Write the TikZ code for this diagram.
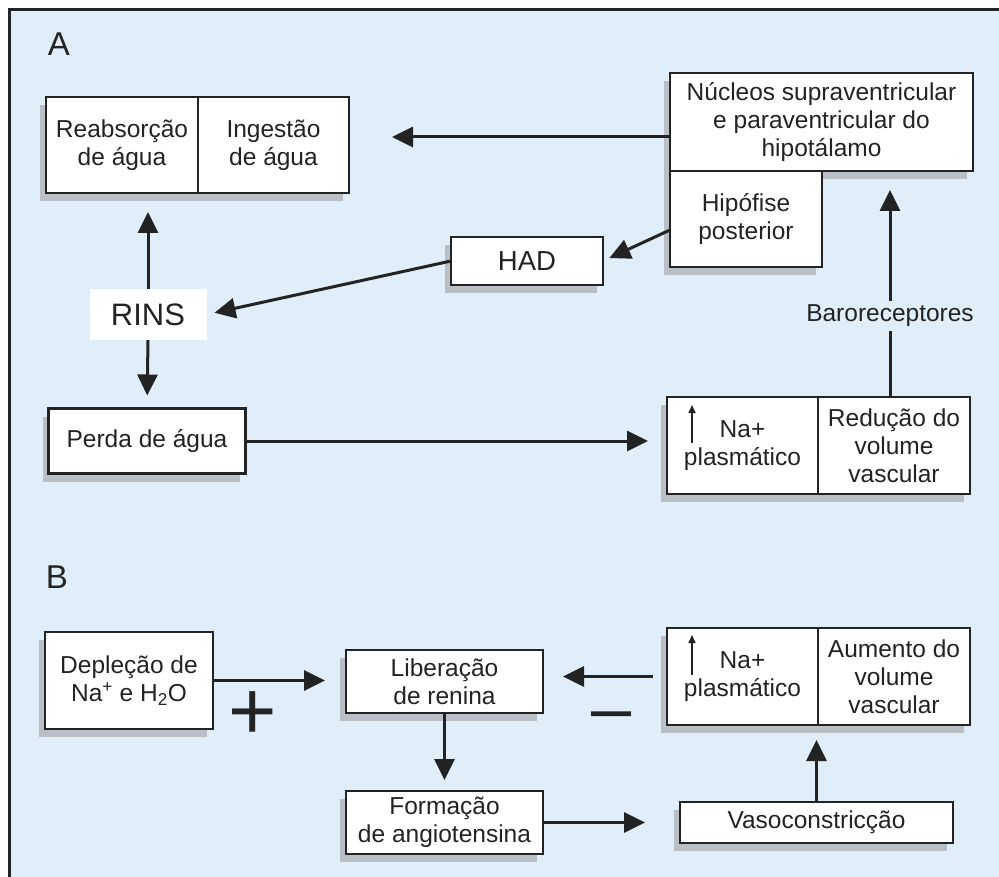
\documentclass[tikz,border=0pt]{standalone}
\usepackage{fontspec}
\setmainfont{Liberation Sans}
\usepackage{tikz}
\usetikzlibrary{arrows.meta,positioning,shadows}
\definecolor{panelblue}{RGB}{224,238,250}
\definecolor{inkgray}{RGB}{35,35,35}
\definecolor{shadowgray}{RGB}{186,191,197}

\begin{document}
\begin{tikzpicture}[x=1pt, y=-1pt,
    every node/.style={text=inkgray},
    txt/.style={font=\fontsize{24.5}{28}\selectfont},
    box/.style={txt, draw=inkgray, line width=2.4pt, fill=white, align=center,
        inner sep=2pt, outer sep=0pt,
        drop shadow={shadow xshift=-6pt, shadow yshift=-8pt, fill=shadowgray, opacity=1}},
    arr/.style={-{Triangle[length=21pt,width=20pt]}, line width=3pt, draw=inkgray},
    uparr/.style={-{Triangle[length=8pt,width=7pt]}, line width=1.6pt, draw=inkgray},
    panel/.style={font=\fontsize{33}{36}\selectfont},
    sign/.style={inner sep=0pt}]
    % frame and background
    \useasboundingbox (0,0) rectangle (999,877);
    \fill[white] (0,0) rectangle (999,877);
    \clip (0,0) rectangle (999,877);
    \draw[draw=inkgray, line width=2.5pt, fill=panelblue] (9.5,9.5) rectangle (1020,900);

    % panel A
    \node[panel] (labA) at (59,44) {A};
    \node[box, minimum width=151pt, minimum height=96pt] (ing) at (273.5,145) {Ingestão\\de água};
    \node[box, minimum width=152pt, minimum height=96pt, left=0pt of ing] (reab) {Reabsorção\\de água};
    \node[box, minimum width=303pt, minimum height=98pt] (nuc) at (821.5,122)
        {Núcleos supraventricular\\e paraventricular do\\hipotálamo};
    \node[box, minimum width=152pt, minimum height=96pt, anchor=north west] (hip) at (nuc.south west)
        {Hipófise\\posterior};
    \node[box, minimum width=152pt, minimum height=48pt, font=\fontsize{27.5}{30}\selectfont] (had) at (527,261) {HAD};
    \node[fill=white, minimum width=117pt, minimum height=51pt, font=\fontsize{31}{34}\selectfont] (rins) at (148,314.5) {RINS};
    \node[box, minimum width=197pt, minimum height=65pt] (perda) at (147,441) {Perda de água};
    \node[box, minimum width=152pt, minimum height=97pt] (redA) at (894,445.5) {Redução do\\volume\\vascular};
    \node[box, minimum width=151pt, minimum height=97pt, left=0pt of redA] (naA) {Na+\\plasmático};
    \node[txt] (baro) at (890,316) {Baroreceptores};

    % arrows of panel A
    \draw[arr, shorten >=43pt] ([yshift=-15pt]nuc.west) -- ([yshift=8pt]ing.east);
    \draw[arr, shorten >=7pt] ([yshift=-11pt]hip.west) -- (had.east);
    \draw[arr, shorten >=8pt] (had.west) -- (rins.east);
    \draw[arr, shorten >=19pt] (rins.north) -- (rins.north |- reab.south);
    \draw[arr, shorten >=13pt] (rins.south) -- (perda.north);
    \draw[arr, shorten >=19pt] (perda.east) -- (perda.east -| naA.west);
    \draw[line width=3pt, draw=inkgray] (baro.south |- redA.north) -- (baro.south);
    \draw[arr, shorten >=19pt] (baro.north) -- (baro.north |- nuc.south);
    \draw[uparr] ([shift={(25pt,-46pt)}]naA.north west) -- ++(0pt,38pt);

    % panel B
    \node[panel] (labB) at (57,577) {B};
    \node[box, minimum width=168pt, minimum height=97pt] (dep) at (129,680.5)
        {Depleção de\\Na\textsuperscript{+} e H\textsubscript{2}O};
    \node[box, minimum width=197pt, minimum height=63pt] (lib) at (444.5,681.5) {Liberação\\de renina};
    \node[box, minimum width=197pt, minimum height=63pt] (form) at (444.5,822.5) {Formação\\de angiotensina};
    \node[box, minimum width=273pt, minimum height=41pt] (vaso) at (816.5,822.5) {Vasoconstricção};
    \node[box, minimum width=152pt, minimum height=97pt] (aumB) at (894,676.5) {Aumento do\\volume\\vascular};
    \node[box, minimum width=151pt, minimum height=97pt, left=0pt of aumB] (naB) {Na+\\plasmático};
    \node[sign, font=\fontsize{83}{83}\selectfont] (plus) at (253,716) {+};
    \node[sign, font=\fontsize{72}{72}\selectfont] (minus) at (612,722) {\textendash};

    % arrows of panel B
    \draw[arr, shorten >=21pt] (dep.east) -- (dep.east -| lib.west);
    \draw[arr, shorten >=11pt] (lib.south) -- (form.north);
    \draw[arr, shorten >=35pt] (form.east) -- (vaso.west);
    \draw[arr, shorten >=15pt] (vaso.north) -- (vaso.north |- naB.south);
    \draw[arr, shorten <=14pt, shorten >=20pt] (naB.west) -- (naB.west -| lib.east);
    \draw[uparr] ([shift={(25pt,-47pt)}]naB.north west) -- ++(0pt,40pt);
\end{tikzpicture}
\end{document}
